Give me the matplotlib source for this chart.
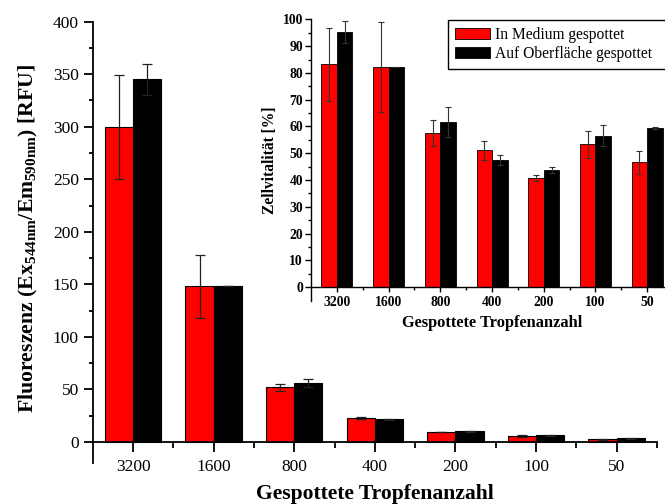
import numpy as np
import matplotlib
matplotlib.use("Agg")
from matplotlib import pyplot as plt

plt.rcParams['font.family'] = ['Liberation Serif', 'DejaVu Serif']
plt.rcParams['mathtext.fontset'] = 'custom'
plt.rcParams['mathtext.rm'] = 'Liberation Serif'
plt.rcParams['mathtext.bf'] = 'Liberation Serif:bold'

# Kategorien (Anzahl gespotteter Tropfen)
categories = ['3200', '1600', '800', '400', '200', '100', '50']
label_medium = 'In Medium gespottet'
label_surface = 'Auf Oberfläche gespottet'

# Hauptdiagramm: Fluoreszenz [RFU]
fluor_medium = [300, 148, 52, 23, 9.5, 6, 2.5]
fluor_medium_err = [49.5, 30, 3.5, 1.2, 0.3, 0.8, 0.3]
fluor_surface = [345, 148, 56, 21.5, 10, 6.5, 3.5]
fluor_surface_err = [14.5, 0, 4, 0.5, 0.3, 0.5, 0.2]

# Inset: Zellvitalitaet [%]
vital_medium = [83.2, 82.3, 57.7, 51.1, 40.8, 53.4, 46.6]
vital_medium_err = [13.7, 16.8, 4.8, 3.6, 1.1, 5.0, 4.4]
vital_surface = [95.4, 82.1, 61.7, 47.5, 43.8, 56.6, 59.4]
vital_surface_err = [4.1, 0, 5.7, 1.7, 1.0, 4.0, 0.3]

x = np.arange(len(categories))

fig = plt.figure(figsize=(6.65, 5.04), dpi=100)

# --- main axes ---
ax = fig.add_axes([0.1394, 0.0813, 0.8486, 0.8757])
w = 0.35
err_kw = dict(ecolor='#222222', elinewidth=0.9, capthick=0.9, zorder=3)
# red bar left of the category centre, black bar right of it
ax.bar(x, fluor_medium, -w, align='edge', color='red', edgecolor='black',
       linewidth=0.8, yerr=fluor_medium_err, capsize=3.8, error_kw=err_kw)
ax.bar(x, fluor_surface, w, align='edge', color='black', edgecolor='black',
       linewidth=0.8, yerr=fluor_surface_err, capsize=3.8, error_kw=err_kw)
ax.set_xlim(-0.5, 6.5)
ax.set_ylim(-20, 400)
ax.spines['top'].set_visible(False)
ax.spines['right'].set_visible(False)
ax.spines['bottom'].set_position(('data', 0))
for s in ('left', 'bottom'):
    ax.spines[s].set_linewidth(1.3)
ax.set_xticks(x)
ax.set_xticklabels(categories)
ax.set_xticks(np.arange(0.5, 7, 1), minor=True)
ax.set_yticks(np.arange(0, 401, 50))
ax.set_yticks(np.arange(25, 400, 50), minor=True)
ax.tick_params(axis='both', which='major', labelsize=12.5, width=1.3, direction='out')
ax.tick_params(axis='x', which='major', length=7.5, pad=5)
ax.tick_params(axis='x', which='minor', length=4, width=1.3)
ax.tick_params(axis='y', which='major', length=6.5, pad=3.4)
ax.tick_params(axis='y', which='minor', length=3, width=1.3)
ax.set_xlabel('Gespottete Tropfenanzahl', fontsize=15.6, fontweight='bold')
ax.xaxis.set_label_coords(0.5, -0.048)
ax.set_ylabel(r'Fluoreszenz (Ex$_{\mathbf{544nm}}$/Em$_{\mathbf{590nm}}$) [RFU]',
              fontsize=15.7, fontweight='bold')
ax.yaxis.set_label_coords(-0.094, 0.51)

# --- inset ---
ax2 = fig.add_axes([0.4677, 0.4034, 0.5444, 0.5583], facecolor='none')
w2 = 0.3
err_kw2 = dict(ecolor='#333333', elinewidth=0.8, capthick=0.8, zorder=3)
ax2.bar(x, vital_medium, -w2, align='edge', color='red', edgecolor='black',
        linewidth=0.6, yerr=vital_medium_err, capsize=2.4, error_kw=err_kw2,
        label=label_medium)
ax2.bar(x, vital_surface, w2, align='edge', color='black', edgecolor='black',
        linewidth=0.6, yerr=vital_surface_err, capsize=2.4, error_kw=err_kw2,
        label=label_surface)
ax2.set_xlim(-0.5, 6.5)
ax2.set_ylim(-5, 100)
ax2.spines['top'].set_visible(False)
ax2.spines['right'].set_visible(False)
ax2.spines['bottom'].set_position(('data', 0))
for s in ('left', 'bottom'):
    ax2.spines[s].set_linewidth(1.0)
ax2.set_xticks(x)
ax2.set_xticklabels(categories, fontweight='bold')
ax2.set_xticks(np.arange(0.5, 7, 1), minor=True)
ax2.set_yticks(np.arange(0, 101, 10))
ax2.set_yticks(np.arange(5, 100, 10), minor=True)
for lab in ax2.get_yticklabels():
    lab.set_fontweight('bold')
ax2.tick_params(axis='both', which='major', labelsize=9.8, width=1.0, direction='out')
ax2.tick_params(axis='x', which='major', length=3.6, pad=3)
ax2.tick_params(axis='x', which='minor', length=1.8, width=1.0)
ax2.tick_params(axis='y', which='major', length=4.3, pad=1.5)
ax2.tick_params(axis='y', which='minor', length=2, width=1.0)
ax2.set_xlabel('Gespottete Tropfenanzahl', fontsize=11.8, fontweight='bold')
ax2.xaxis.set_label_coords(0.5, -0.05)
ax2.set_ylabel('Zellvitalität [%]', fontsize=11.2, fontweight='bold')
ax2.yaxis.set_label_coords(-0.09, 0.5)

leg = ax2.legend(loc='upper left', bbox_to_anchor=(448 / 665, 0, 240 / 665, 1 - 20 / 504),
                 bbox_transform=fig.transFigure, mode='expand', borderaxespad=0,
                 fontsize=11.2, handlelength=2.25, handleheight=0.75,
                 handletextpad=0.3, labelspacing=0.2, borderpad=0.45,
                 fancybox=False, framealpha=1, edgecolor='black')
leg.get_frame().set_linewidth(1.0)

fig.savefig('out.png', dpi=100)
